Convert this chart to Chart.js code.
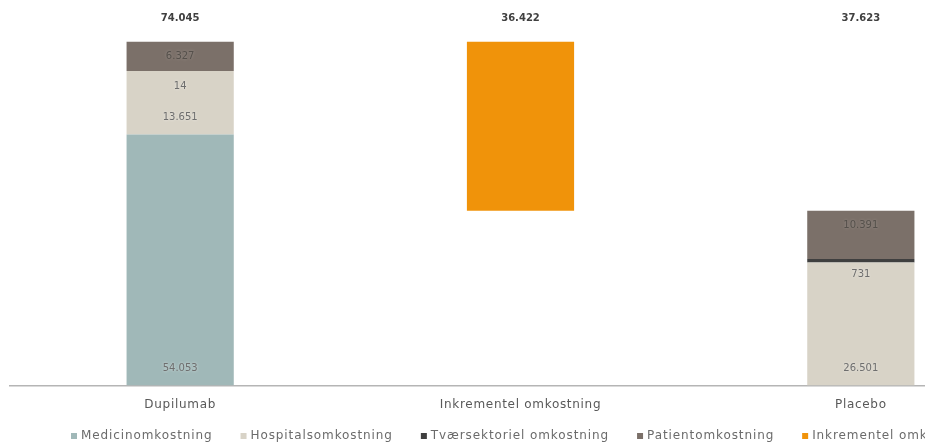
<!DOCTYPE html>
<html>
<head>
<meta charset="utf-8">
<script src="https://cdn.jsdelivr.net/npm/chart.js@4"></script>
<style>
    html, body { margin: 0; padding: 0; background: #fff; overflow: hidden; }
    #wrap { width: 1045px; height: 444px; }
</style>
</head>
<body>
<div id="wrap"><canvas id="omkostninger"></canvas></div>
<script>
// Data
const kategorier = ['Dupilumab', 'Inkrementel omkostning', 'Placebo'];
const medicinomkostning = [54053, null, null];
const hospitalsomkostning = [13651, null, 26501];
const tvaersektorielOmkostning = [14, null, 731];
const patientomkostning = [6327, null, 10391];

// Samlet pr. søjle
const total = (i) => [medicinomkostning, hospitalsomkostning, tvaersektorielOmkostning, patientomkostning]
    .reduce((sum, arr) => sum + (arr[i] || 0), 0);

// Inkrementel søjle svæver fra placebo-total til dupilumab-total
const inkrementel = [null, [total(2), total(0)], null];

// Dansk talformat med punktum som tusindtalsseparator
function fmt(v) {
    return String(Math.round(v)).replace(/\B(?=(\d{3})+(?!\d))/g, '.');
}

const FONT = '"DejaVu Sans", sans-serif';

// Bredere bogstavafstand (originalen bruger en bred font)
const spacingPlugin = {
    id: 'spacing',
    beforeDraw(chart) {
        chart.ctx.letterSpacing = '0.7px';
    }
};

// Etiketter i søjlerne + totaler over søjlerne
const labelPlugin = {
    id: 'labels',
    afterDatasetsDraw(chart) {
        const ctx = chart.ctx;
        ctx.save();
        ctx.letterSpacing = '0px';
        ctx.textAlign = 'center';
        ctx.textBaseline = 'middle';

        chart.data.datasets.forEach((ds, di) => {
            if (!ds.labelAnker) return;
            const meta = chart.getDatasetMeta(di);
            meta.data.forEach((bar, i) => {
                const v = ds.data[i];
                if (v === null || v === undefined) return;
                const paaMoerk = ds.labelAnker === 'end' && (bar.base - bar.y) > 10;
                const y = ds.labelAnker === 'base' ? bar.base - 17 : bar.y + 15;
                ctx.font = '10px ' + FONT;
                ctx.shadowColor = paaMoerk ? 'rgba(255,255,255,0.25)' : 'rgba(255,255,255,0.6)';
                ctx.shadowBlur = 3;
                ctx.fillStyle = paaMoerk ? '#55504b' : '#6e6e6e';
                ctx.fillText(fmt(v), bar.x, y);
            });
        });

        // totaler
        ctx.shadowBlur = 0;
        ctx.font = 'bold 10px ' + FONT;
        ctx.fillStyle = '#404040';
        const xs = chart.scales.x;
        kategorier.forEach((k, i) => {
            const val = i === 1 ? inkrementel[1][1] - inkrementel[1][0] : total(i);
            ctx.fillText(fmt(val), xs.getPixelForValue(i), 18);
        });
        ctx.restore();
    }
};

// Egen forklaring på én linje (løber ud over kanten som i originalen)
const legendPlugin = {
    id: 'enLinjeLegend',
    afterDraw(chart) {
        const ctx = chart.ctx;
        ctx.save();
        ctx.letterSpacing = '0.9px';
        ctx.font = '12px ' + FONT;
        ctx.textBaseline = 'middle';
        ctx.textAlign = 'left';
        const y = 436;
        let x = 71;
        chart.data.datasets.forEach(ds => {
            ctx.fillStyle = ds.backgroundColor;
            ctx.fillRect(x, y - 3, 6, 6);
            ctx.fillStyle = '#6b6b6b';
            ctx.fillText(ds.label, x + 10, y);
            x += 10 + ctx.measureText(ds.label).width + 28;
        });
        ctx.restore();
    }
};

function initChart() {
    const ctx = document.getElementById('omkostninger');

    new Chart(ctx, {
        type: 'bar',
        data: {
            labels: kategorier,
            datasets: [
                { label: 'Medicinomkostning', data: medicinomkostning, backgroundColor: '#a0b8b8', labelAnker: 'base' },
                { label: 'Hospitalsomkostning', data: hospitalsomkostning, backgroundColor: '#d8d3c7', labelAnker: 'base' },
                { label: 'Tværsektoriel omkostning', data: tvaersektorielOmkostning, backgroundColor: '#3f3f3f', labelAnker: 'end' },
                { label: 'Patientomkostning', data: patientomkostning, backgroundColor: '#7b7069', labelAnker: 'end' },
                { label: 'Inkrementel omkostning', data: inkrementel, backgroundColor: '#f0930a' }
            ]
        },
        options: {
            responsive: true,
            maintainAspectRatio: false,
            animation: false,
            layout: { padding: { left: 10, right: 14, top: 14, bottom: 20 } },
            datasets: {
                bar: { categoryPercentage: 1, barPercentage: 0.315 }
            },
            scales: {
                x: {
                    stacked: true,
                    grid: { display: false, drawTicks: false },
                    border: { color: '#b5b5b5', width: 1.5 },
                    ticks: { color: '#595959', font: { family: FONT, size: 12 }, padding: 12 }
                },
                y: {
                    stacked: true,
                    display: false,
                    min: 0,
                    max: 80000
                }
            },
            plugins: {
                legend: { display: false },
                tooltip: { enabled: false }
            }
        },
        plugins: [spacingPlugin, labelPlugin, legendPlugin]
    });
}

document.addEventListener('DOMContentLoaded', initChart);
</script>
</body>
</html>
